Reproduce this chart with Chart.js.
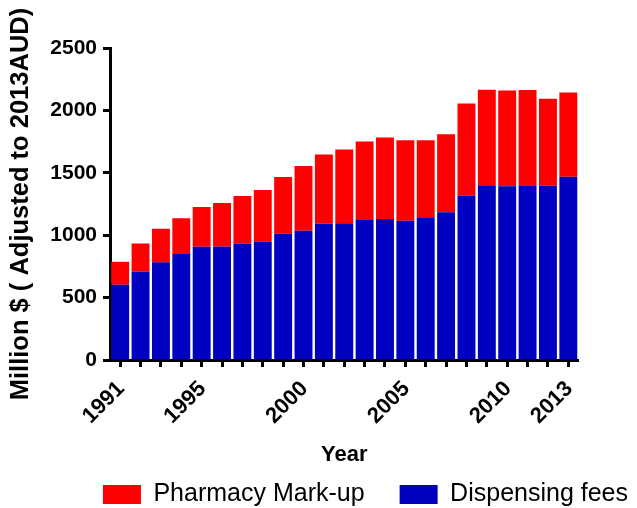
<!DOCTYPE html>
<html>
<head>
<meta charset="utf-8">
<script src="https://cdn.jsdelivr.net/npm/chart.js@4"></script>
<style>
  body { margin: 0; background: #fff; }
</style>
</head>
<body>
<canvas id="chart" width="637" height="508"></canvas>
<script>
// Years on the x axis
const years = ["1991", "1992", "1993", "1994", "1995", "1996", "1997", "1998", "1999", "2000",
  "2001", "2002", "2003", "2004", "2005", "2006", "2007", "2008", "2009", "2010",
  "2011", "2012", "2013"];

// Million $ (adjusted to 2013 AUD)
const dispensingFees = [602, 707, 784, 849, 907, 910, 934, 950, 1012, 1036,
  1092, 1095, 1122, 1130, 1116, 1143, 1183, 1319, 1400, 1392,
  1395, 1397, 1469];
const pharmacyMarkup = [185, 227, 268, 286, 319, 348, 380, 412, 455, 519,
  554, 591, 628, 653, 645, 618, 626, 737, 766, 768,
  768, 696, 675];

// Only these years get a label
const labelledYears = ["1991", "1995", "2000", "2005", "2010", "2013"];
const yTicks = [0, 500, 1000, 1500, 2000, 2500];

const FONT = "'Liberation Sans', Arial, sans-serif";

new Chart(document.getElementById("chart"), {
  type: "bar",
  data: {
    labels: years,
    datasets: [
      { label: "Dispensing fees", data: dispensingFees, backgroundColor: "#0000C0" },
      { label: "Pharmacy Mark-up", data: pharmacyMarkup, backgroundColor: "#FF0000" }
    ]
  },
  options: {
    responsive: false,
    animation: false,
    layout: { padding: { top: 48, right: -26, bottom: -9, left: 0 } },
    datasets: { bar: { barPercentage: 0.88, categoryPercentage: 1, borderWidth: 0 } },
    plugins: {
      tooltip: { enabled: false },
      legend: {
        position: "bottom",
        align: "end",
        reverse: true,
        labels: {
          color: "#000",
          font: { family: FONT, size: 25 },
          boxWidth: 38,
          boxHeight: 19,
          padding: 35
        }
      }
    },
    scales: {
      x: {
        stacked: true,
        afterFit: s => { s.height = 87; },
        border: { display: true, color: "#000", width: 3 },
        grid: { display: true, drawOnChartArea: false, offset: false, tickLength: 7, tickWidth: 3, tickColor: "#000" },
        ticks: {
          autoSkip: false,
          minRotation: 45,
          maxRotation: 45,
          padding: 9,
          labelOffset: 1,
          color: "#000",
          font: { family: FONT, size: 22, weight: "bold" },
          callback: function (v, i) {
            const lab = years[i];
            return labelledYears.includes(lab) ? lab : "";
          }
        },
        title: {
          display: true,
          text: "Year",
          color: "#000",
          font: { family: FONT, size: 22, weight: "bold" },
          padding: { top: 0, bottom: -21 }
        }
      },
      y: {
        stacked: true,
        min: 0,
        max: 2500,
        afterFit: s => { s.width = 110; },
        afterBuildTicks: s => { s.ticks = yTicks.map(v => ({ value: v })); },
        border: { display: true, color: "#000", width: 3 },
        grid: { display: true, drawOnChartArea: false, tickLength: 7, tickWidth: 3, tickColor: "#000" },
        ticks: {
          padding: 6,
          color: "#000",
          font: { family: FONT, size: 21, weight: "bold" },
          callback: v => String(v)
        },
        title: {
          display: true,
          text: "Million $ ( Adjusted to 2013AUD)",
          color: "#000",
          font: { family: FONT, size: 25.5, weight: "bold" },
          padding: { top: 6, bottom: 0 }
        }
      },
      // empty axis that only reserves the white margin on the right
      yPad: {
        type: "linear",
        position: "right",
        display: true,
        afterFit: s => { s.width = 84.5; },
        grid: { display: false },
        border: { display: false },
        ticks: { display: false },
        title: { display: false }
      }
    }
  }
});
</script>
</body>
</html>
